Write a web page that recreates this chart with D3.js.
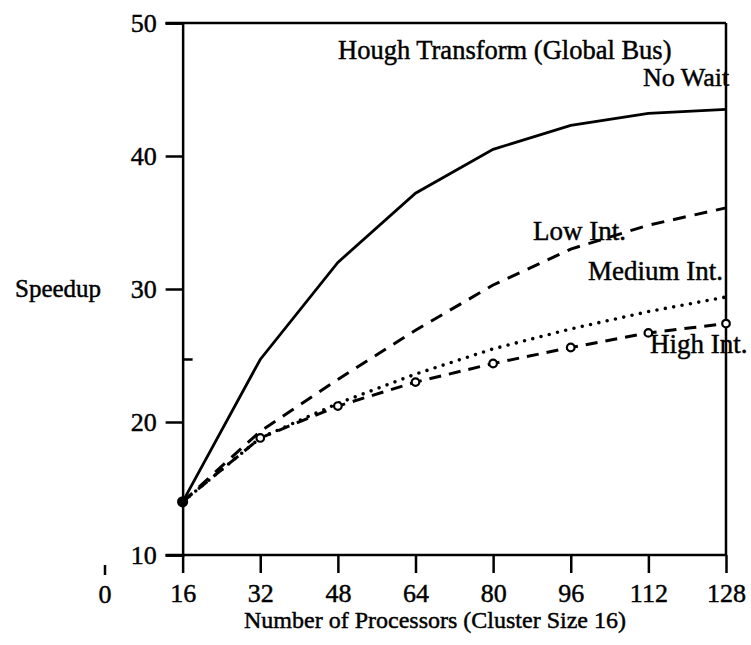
<!DOCTYPE html>
<html>
<head>
<meta charset="utf-8">
<script src="https://cdn.jsdelivr.net/npm/d3@7"></script>
<style>
  html, body { margin: 0; padding: 0; background: #fff; }
  svg text { font-family: "Liberation Serif", "DejaVu Serif", serif; fill: #000; stroke: #000; stroke-width: 0.45px; }
</style>
</head>
<body>
<svg id="chart" width="751" height="645"></svg>
<script>
// ---- data ----
const processors = [16, 32, 48, 64, 80, 96, 112, 128];
const noWait   = [14.0, 24.7, 32.0, 37.2, 40.5, 42.3, 43.2, 43.5];
const lowInt   = [14.0, 19.3, 23.2, 26.9, 30.3, 33.0, 34.8, 36.1];
const mediumInt= [14.0, 18.8, 21.4, 23.6, 25.5, 27.0, 28.3, 29.4];
const highInt  = [14.0, 18.8, 21.2, 23.0, 24.4, 25.6, 26.7, 27.4];
const xTicks = [16, 32, 48, 64, 80, 96, 112, 128];
const yTicks = [10, 20, 30, 40, 50];
const innerYTicks = [24.7];
const originTick = 0;
const title = "Hough Transform (Global Bus)";
const xTitle = "Number of Processors (Cluster Size 16)";
const yTitle = "Speedup";
const seriesLabels = ["No Wait", "Low Int.", "Medium Int.", "High Int."];

const svg = d3.select("#chart");
const x = d3.scaleLinear().domain([0, 128]).range([105, 726]);
const y = d3.scaleLinear().domain([10, 50]).range([555, 23]);

const ink = "#000";
const g = svg.append("g");

// frame: top and right border
g.append("line").attr("x1", x(16) - 17).attr("x2", x(128)).attr("y1", y(50)).attr("y2", y(50))
  .attr("stroke", ink).attr("stroke-width", 2.5);
g.append("line").attr("x1", x(128)).attr("x2", x(128)).attr("y1", y(50)).attr("y2", y(10))
  .attr("stroke", ink).attr("stroke-width", 2.5);

// y axis
const yAxis = d3.axisLeft(y).tickValues(yTicks).tickSize(17).tickPadding(9).tickFormat(d3.format("d"));
const yg = g.append("g").attr("transform", `translate(${x(16)},0)`).call(yAxis);
yg.select(".domain").attr("stroke", ink).attr("stroke-width", 2.5);
yg.selectAll(".tick line").attr("stroke", ink).attr("stroke-width", 2.5);
yg.selectAll(".tick text").attr("font-size", 26).attr("font-family", "Liberation Serif").attr("dy", "0.33em");

// inner tick
g.selectAll(".innerTick").data(innerYTicks).enter().append("line")
  .attr("x1", x(16)).attr("x2", x(16) + 10).attr("y1", d => y(d)).attr("y2", d => y(d))
  .attr("stroke", ink).attr("stroke-width", 2.5);

// x axis
const xAxis = d3.axisBottom(x).tickValues(xTicks).tickSize(18).tickPadding(11).tickFormat(d3.format("d"));
const xg = g.append("g").attr("transform", `translate(0,${y(10)})`).call(xAxis);
xg.select(".domain").remove();
xg.append("line").attr("x1", x(16) - 17).attr("x2", x(128)).attr("y1", 0).attr("y2", 0)
  .attr("stroke", ink).attr("stroke-width", 2.5);
xg.selectAll(".tick line").attr("stroke", ink).attr("stroke-width", 2.5);
xg.selectAll(".tick text").attr("font-size", 26).attr("font-family", "Liberation Serif");

// origin tick "0"
g.append("line").attr("x1", x(originTick)).attr("x2", x(originTick))
  .attr("y1", y(10) + 10).attr("y2", y(10) + 20).attr("stroke", ink).attr("stroke-width", 2.5);
g.append("text").attr("x", x(originTick)).attr("y", 603).attr("text-anchor", "middle")
  .attr("font-size", 26).text(String(originTick));

// lines
const line = d3.line().x((d, i) => x(processors[i])).y(d => y(d));
g.append("path").datum(noWait).attr("d", line).attr("fill", "none")
  .attr("stroke", ink).attr("stroke-width", 2.8);
g.append("path").datum(lowInt).attr("d", line).attr("fill", "none")
  .attr("stroke", ink).attr("stroke-width", 3).attr("stroke-dasharray", "13,9");
g.append("path").datum(mediumInt).attr("d", line).attr("fill", "none")
  .attr("stroke", ink).attr("stroke-width", 3.6).attr("stroke-linecap", "round").attr("stroke-dasharray", "0,8.5");
g.append("path").datum(highInt).attr("d", line).attr("fill", "none")
  .attr("stroke", ink).attr("stroke-width", 3).attr("stroke-dasharray", "12,8");
g.selectAll(".hm").data(highInt).enter().append("circle")
  .attr("cx", (d, i) => x(processors[i])).attr("cy", d => y(d)).attr("r", (d, i) => i === 0 ? 4.5 : 3.8)
  .attr("fill", (d, i) => i === 0 ? ink : "#fff").attr("stroke", ink).attr("stroke-width", 2.2);

// labels
g.append("text").attr("x", 338).attr("y", 59).attr("font-size", 26.5).text(title);
g.append("text").attr("x", 643).attr("y", 86).attr("font-size", 26).text(seriesLabels[0]);
g.append("text").attr("x", 533).attr("y", 240).attr("font-size", 27).text(seriesLabels[1]);
g.append("text").attr("x", 588).attr("y", 280).attr("font-size", 27).text(seriesLabels[2]);
g.append("text").attr("x", 650).attr("y", 353).attr("font-size", 27).text(seriesLabels[3]);
g.append("text").attr("x", 15).attr("y", 297).attr("font-size", 25).text(yTitle);
g.append("text").attr("x", 435).attr("y", 628).attr("text-anchor", "middle").attr("font-size", 24).text(xTitle);
</script>
</body>
</html>
